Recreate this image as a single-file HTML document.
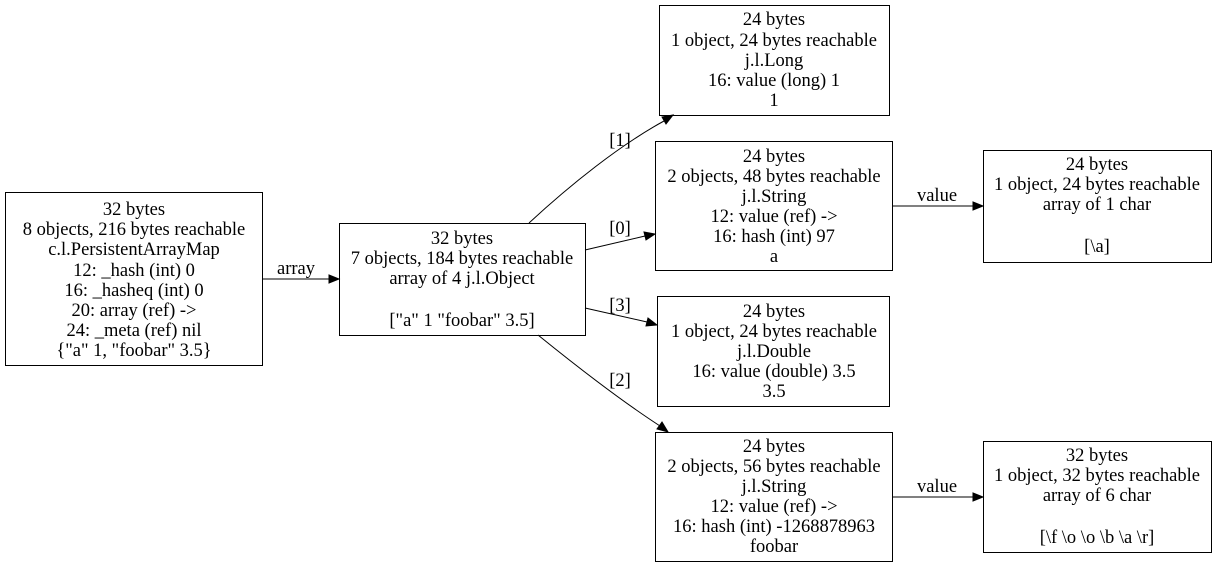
<!DOCTYPE html>
<html><head><meta charset="utf-8"><style>
html,body{margin:0;padding:0;background:#fff;}
svg{display:block;}
text{font-family:"Liberation Serif",serif;font-size:18.5px;fill:#000;text-anchor:middle;}
rect{fill:#fff;stroke:#000;stroke-width:1;}
path.e{fill:none;stroke:#000;stroke-width:1;}
polygon{fill:#000;stroke:#000;}
</style></head><body>
<svg width="1217" height="567" viewBox="0 0 1217 567" xmlns="http://www.w3.org/2000/svg">
<rect x="5.5" y="192.5" width="257" height="173"/>
<text x="134" y="215">32 bytes</text>
<text x="134" y="235">8 objects, 216 bytes reachable</text>
<text x="134" y="255">c.l.PersistentArrayMap</text>
<text x="134" y="276">12: _hash (int) 0</text>
<text x="134" y="296">16: _hasheq (int) 0</text>
<text x="134" y="316">20: array (ref) -&gt;</text>
<text x="134" y="336">24: _meta (ref) nil</text>
<text x="134" y="356">{"a" 1, "foobar" 3.5}</text>
<rect x="339.5" y="223.5" width="246" height="112"/>
<text x="462" y="244">32 bytes</text>
<text x="462" y="264">7 objects, 184 bytes reachable</text>
<text x="462" y="284">array of 4 j.l.Object</text>
<text x="462" y="326">["a" 1 "foobar" 3.5]</text>
<rect x="659.5" y="5.5" width="230" height="110"/>
<text x="774" y="25">24 bytes</text>
<text x="774" y="46">1 object, 24 bytes reachable</text>
<text x="774" y="66">j.l.Long</text>
<text x="774" y="86">16: value (long) 1</text>
<text x="774" y="106">1</text>
<rect x="655.5" y="141.5" width="237" height="129"/>
<text x="774" y="162">24 bytes</text>
<text x="774" y="182">2 objects, 48 bytes reachable</text>
<text x="774" y="202">j.l.String</text>
<text x="774" y="222">12: value (ref) -&gt;</text>
<text x="774" y="242">16: hash (int) 97</text>
<text x="774" y="262">a</text>
<rect x="657.5" y="296.5" width="232" height="110"/>
<text x="774" y="317">24 bytes</text>
<text x="774" y="337">1 object, 24 bytes reachable</text>
<text x="774" y="357">j.l.Double</text>
<text x="774" y="377">16: value (double) 3.5</text>
<text x="774" y="397">3.5</text>
<rect x="655.5" y="432.5" width="237" height="129"/>
<text x="774" y="452">24 bytes</text>
<text x="774" y="472">2 objects, 56 bytes reachable</text>
<text x="774" y="492">j.l.String</text>
<text x="774" y="512">12: value (ref) -&gt;</text>
<text x="774" y="532">16: hash (int) -1268878963</text>
<text x="774" y="552">foobar</text>
<rect x="983.5" y="150.5" width="228" height="112"/>
<text x="1097" y="170">24 bytes</text>
<text x="1097" y="190">1 object, 24 bytes reachable</text>
<text x="1097" y="210">array of 1 char</text>
<text x="1097" y="252">[\a]</text>
<rect x="983.5" y="441.5" width="228" height="111"/>
<text x="1097" y="461">32 bytes</text>
<text x="1097" y="481">1 object, 32 bytes reachable</text>
<text x="1097" y="501">array of 6 char</text>
<text x="1097" y="543">[\f \o \o \b \a \r]</text>
<path class="e" d="M262,279 L329,279"/>
<polygon points="329,275 339,279 329,283"/>
<text x="296" y="274">array</text>
<path class="e" d="M529,223 C570,185 620,145 664,121"/>
<polygon points="662,117 673,115 666,124"/>
<text x="620" y="146">[1]</text>
<path class="e" d="M585,250 L645,236"/>
<polygon points="644,232 655,234 646,240"/>
<text x="620" y="234">[0]</text>
<path class="e" d="M585,308 L647,322"/>
<polygon points="648,318 657,325 646,326"/>
<text x="620" y="311">[3]</text>
<path class="e" d="M538,335 C575,365 620,400 660,426"/>
<polygon points="662,422 668,432 657,429"/>
<text x="620" y="386">[2]</text>
<path class="e" d="M892,206 L973,206"/>
<polygon points="973,202 983,206 973,210"/>
<text x="937" y="201">value</text>
<path class="e" d="M892,497 L973,497"/>
<polygon points="973,493 983,497 973,501"/>
<text x="937" y="492">value</text>
</svg>
</body></html>
